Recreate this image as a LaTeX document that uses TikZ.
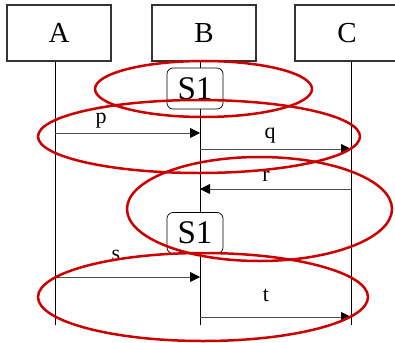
\documentclass[tikz,border=0pt]{standalone}
\usepackage{fontspec}
\setmainfont{Liberation Serif}
\usetikzlibrary{arrows.meta}
\tikzset{
  actor/.style={draw=black!80, line width=1.1pt, fill=white, minimum width=104pt, minimum height=56pt, inner sep=0pt, font=\fontsize{29}{29}\selectfont},
  statebox/.style={draw=black, line width=0.7pt, rounded corners=6pt, fill=white, minimum width=56pt, minimum height=41pt, inner sep=0pt, font=\fontsize{33}{33}\selectfont},
  msg/.style={draw=black!70, line width=0.9pt, -{Triangle[length=10pt,width=10pt,black]}},
  lbl/.style={font=\fontsize{22}{22}\selectfont, inner sep=0pt},
  life/.style={draw=black, line width=0.8pt},
  highlight/.style={draw=red!80!black, line width=2.5pt}
}
\begin{document}
\begin{tikzpicture}[x=1pt,y=-1pt]
    \useasboundingbox (0,0) rectangle (395,342);
    % lifelines
    \coordinate (Atop) at (55,61);
    \coordinate (Abot) at (55,325);
    \coordinate (Btop) at (200,61);
    \coordinate (Bbot) at (200,325);
    \coordinate (Ctop) at (351,61);
    \coordinate (Cbot) at (351,325);
    \draw[life] (Atop) -- (Abot);
    \draw[life] (Btop) -- (Bbot);
    \draw[life] (Ctop) -- (Cbot);
    \node[actor] (A) at (59,33) {A};
    \node[actor] (B) at (204,33) {B};
    \node[actor] (C) at (347,33) {C};
    \node[statebox] (S1a) at (195,88.5) {S1};
    \node[statebox] (S1b) at (195,233) {S1};
    % messages
    \coordinate (pA) at (55,133);
    \coordinate (pB) at (200,133);
    \coordinate (qB) at (200,149);
    \coordinate (qC) at (351,149);
    \coordinate (rC) at (351,189);
    \coordinate (rB) at (200,189);
    \coordinate (sA) at (55,277);
    \coordinate (sB) at (200,277);
    \coordinate (tB) at (200,317);
    \coordinate (tC) at (351,317);
    \draw[msg] (pA) -- (pB);
    \draw[msg] (qB) -- (qC);
    \draw[msg] (rC) -- (rB);
    \draw[msg] (sA) -- (sB);
    \draw[msg] (tB) -- (tC);
    \node[lbl] (p) at (101,121) {p};
    \node[lbl] (q) at (270,136) {q};
    \node[lbl] (r) at (266,176) {r};
    \node[lbl] (s) at (116,255) {s};
    \node[lbl] (t) at (266,295) {t};
    % highlights
    \draw[highlight] (203.5,89) ellipse (108.5 and 28);
    \draw[highlight] (199,136.5) ellipse (161 and 36.5);
    \draw[highlight] (259.5,209) ellipse (132.5 and 52);
    \draw[highlight] (203,297) ellipse (165 and 44);
\end{tikzpicture}
\end{document}
